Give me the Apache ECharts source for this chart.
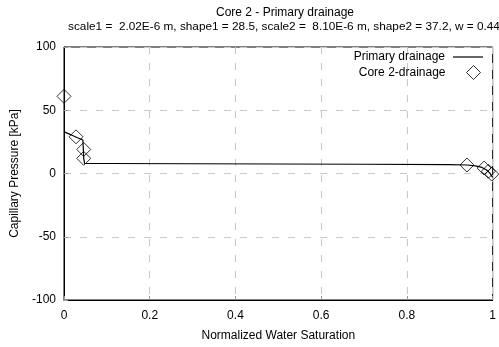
<!DOCTYPE html>
<html><head><meta charset="utf-8">
<script src="https://cdn.jsdelivr.net/npm/echarts@6/dist/echarts.min.js"></script>
<style>html,body{margin:0;padding:0;background:#fff}#c{width:499px;height:347px}</style>
</head><body><div id="c"></div>
<script>
var titleText = 'Core 2 - Primary drainage';
var subtitleText = 'scale1 =  2.02E-6 m, shape1 = 28.5, scale2 =  8.10E-6 m, shape2 = 37.2, w = 0.44';
var xTicks = [0, 0.2, 0.4, 0.6, 0.8, 1];
var yTicks = [-100, -50, 0, 50, 100];
var fitSw = [0, 0.01, 0.02, 0.03, 0.044, 0.045, 0.046, 0.048, 0.1, 0.3, 0.5, 0.7, 0.9, 0.94, 0.96, 0.975, 0.985, 0.993, 1.0];
var fitPc = [33, 31.5, 30, 28.5, 26.5, 20, 12, 8, 7.9, 7.7, 7.5, 7.3, 7.0, 6.7, 6.0, 4.8, 3.0, 0.5, -3];
var measSw = [0, 0.028, 0.046, 0.046, 0.94, 0.98, 0.99, 0.998];
var measPc = [61, 29, 19, 12, 6.7, 4.3, 1.8, -0.5];

var fmt = function (v) { return String(v); };
var chart = echarts.init(document.getElementById('c'), null, {renderer: 'canvas'});
var font = 'Liberation Sans, Arial, sans-serif';
var fs = 12;
chart.setOption({
  animation: false,
  textStyle: {fontFamily: font},
  title: [
    {text: titleText, left: 280, top: 2, textAlign: 'center',
     textStyle: {fontSize: fs, fontWeight: 'normal', color: '#000', fontFamily: font}},
    {text: subtitleText, left: 279, top: 16, textAlign: 'center',
     textStyle: {fontSize: 11.8, fontWeight: 'normal', color: '#000', fontFamily: font}}
  ],
  legend: [
    {data: [{name: 'Primary drainage', icon: 'path://M0,0 L30,0 L30,1.2 L0,1.2 Z', itemStyle: {color: '#000'}}],
     right: 16, top: 51, padding: 0, align: 'right', itemWidth: 30, itemHeight: 1.2, selectedMode: false,
     textStyle: {fontSize: fs, color: '#000', fontFamily: font, padding: [0, 3, 0, 0]}},
    {data: [{name: 'Core 2-drainage', icon: 'diamond', itemStyle: {color: 'rgba(0,0,0,0)', borderColor: '#000', borderWidth: 1}}],
     right: 18, top: 65, padding: 0, align: 'right', itemWidth: 14, itemHeight: 14, selectedMode: false,
     textStyle: {fontSize: fs, color: '#000', fontFamily: font, padding: [0, 16, 0, 0]}}
  ],
  grid: {left: 64, right: 2, top: 47, bottom: 47, containLabel: false,
         show: true, borderColor: '#000', borderWidth: 1},
  xAxis: {
    type: 'value', min: xTicks[0], max: xTicks[xTicks.length - 1], interval: 0.2,
    name: 'Normalized Water Saturation', nameLocation: 'middle', nameGap: 30,
    nameTextStyle: {fontSize: fs, color: '#000', fontFamily: font},
    axisLine: {show: true, onZero: false, lineStyle: {color: '#000', width: 1}},
    axisTick: {show: true, inside: true, length: 4, lineStyle: {color: '#999'}},
    axisLabel: {fontSize: fs, color: '#000', margin: 10, fontFamily: font, formatter: fmt},
    splitLine: {show: true, lineStyle: {color: '#c8c8c8', type: [7, 9], width: 1}}
  },
  yAxis: {
    type: 'value', min: yTicks[0], max: yTicks[yTicks.length - 1], interval: 50,
    name: 'Capillary Pressure [kPa]', nameLocation: 'middle', nameGap: 39,
    nameTextStyle: {fontSize: fs, color: '#000', fontFamily: font},
    axisLine: {show: true, onZero: false, lineStyle: {color: '#000', width: 1}},
    axisTick: {show: true, inside: true, length: 4, lineStyle: {color: '#999'}},
    axisLabel: {fontSize: fs, color: '#000', margin: 8, fontFamily: font, formatter: fmt},
    splitLine: {show: true, lineStyle: {color: '#c8c8c8', type: [7, 9], width: 1}}
  },
  series: [
    {name: 'Primary drainage', type: 'line', symbol: 'none', silent: true,
     data: fitSw.map(function (x, i) { return [x, fitPc[i]]; }),
     lineStyle: {color: '#000', width: 1.2}, itemStyle: {color: '#000'}, z: 2},
    {name: 'Core 2-drainage', type: 'scatter', symbol: 'diamond', symbolSize: 14, silent: true,
     data: measSw.map(function (x, i) { return [x, measPc[i]]; }),
     itemStyle: {color: 'rgba(0,0,0,0)', borderColor: '#000', borderWidth: 1}, z: 3}
  ]
});
</script></body></html>
